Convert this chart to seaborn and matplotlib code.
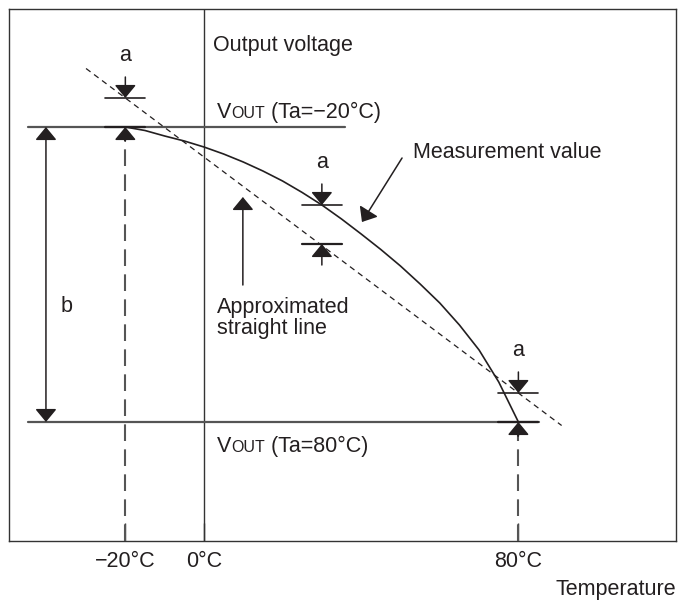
import matplotlib
matplotlib.use("Agg")
import matplotlib.pyplot as plt
from matplotlib.transforms import offset_copy
import pandas as pd
import seaborn as sns

# ---------------- data (schematic, arbitrary voltage units) ----------------
temps = [-20, -15, -10, -5, 0, 5, 10, 15, 20, 25, 30, 35, 40, 45, 50, 55, 60, 65, 70, 75, 80]
measured = [4.14, 4.105, 4.05, 4.00, 3.94, 3.87, 3.79, 3.70, 3.60, 3.485, 3.36,
            3.22, 3.07, 2.915, 2.75, 2.57, 2.38, 2.16, 1.91, 1.59, 1.19]
approx_temps = [-30, 91]
approx_vout = [4.725, 1.155]
tick_temps = [-20, 0, 80]
tick_labels = ["\u221220\u00b0C", "0\u00b0C", "80\u00b0C"]
ref_temps = [-20, 80]
ref_vout = [4.14, 1.19]
a_temps = [-20, 30, 80]
a_measured = [4.14, 3.36, 1.19]
a_approx = [4.43, 2.97, 1.48]

sns.set_style("white")
plt.rcParams["font.family"] = ["Liberation Sans", "DejaVu Sans"]

INK = "#231f20"
GRAY = "#555555"
FS = 15.5

fig = plt.figure(figsize=(6.84, 6.05), dpi=100)
ax = fig.add_axes([9 / 684, 1 - 541 / 605, (676 - 9) / 684, (541 - 9) / 605])
ax.set_xlim(-49.6, 120.1)
ax.set_ylim(0, 5.32)

curve_df = pd.DataFrame({"T": temps, "V": measured})
line_df = pd.DataFrame({"T": approx_temps, "V": approx_vout})

# axes frame and vertical axis at 0 degC
for s in ax.spines.values():
    s.set_color("#333333")
    s.set_linewidth(1.0)
ax.axvline(0, color="#333333", lw=1.0, zorder=2)

# reference horizontal lines
ax.plot([-44.8, 35.9], [ref_vout[0]] * 2, color=GRAY, lw=1.6, zorder=2)
ax.plot([-44.8, 85.2], [ref_vout[1]] * 2, color=GRAY, lw=1.6, zorder=2)

# approximated straight line and measured curve
sns.lineplot(data=line_df, x="T", y="V", ax=ax, color=INK, lw=0.9,
             linestyle=(0, (4.5, 3.5)), sort=False, zorder=3)
sns.lineplot(data=curve_df, x="T", y="V", ax=ax, color=INK, lw=1.2,
             sort=False, zorder=4)

HW = 5.1  # half width of the small 'a' bars, degC
arrow_kw = dict(arrowstyle="-|>,head_length=0.4,head_width=0.33",
                mutation_scale=20, color=INK, lw=1.1,
                shrinkA=0, shrinkB=0)

def arrow(tail, tip):
    ax.annotate("", xy=tip, xytext=tail, arrowprops=arrow_kw, zorder=5)

for t, vm, va in zip(a_temps, a_measured, a_approx):
    top = max(vm, va)
    bot = min(vm, va)
    ax.plot([t - HW, t + HW], [top, top], color=INK, lw=1.2, zorder=4)
    ax.plot([t - HW, t + HW], [bot, bot], color=INK, lw=1.6, zorder=4)
    arrow((t, top + 0.21), (t, top))
    if t in ref_temps:
        ax.plot([t, t], [0, bot - 0.12], color=GRAY, lw=1.5,
                linestyle=(0, (8, 4)), zorder=3)
        ax.plot([t, t], [bot - 0.14, bot - 0.05], color=INK, lw=1.1, zorder=4)
        arrow((t, bot - 0.14), (t, bot))
    else:
        arrow((t, bot - 0.21), (t, bot))
    ax.text(t, top + 0.32, "a", ha="center", va="bottom", fontsize=FS, color=INK)

# 'b' double arrow
bx = -40.2
ax.annotate("", xy=(bx, ref_vout[0]), xytext=(bx, ref_vout[1]),
            arrowprops=dict(arrowstyle="<|-|>,head_length=0.4,head_width=0.33",
                            mutation_scale=20, color=INK, lw=1.1,
                            shrinkA=0, shrinkB=0), zorder=5)
ax.text(-34.9, 2.34, "b", ha="center", va="center", fontsize=FS, color=INK)

# pointer arrows
arrow((9.9, 2.56), (9.9, 3.44))
arrow((50.4, 3.83), (40.2, 3.19))

# texts
ax.text(2.3, 4.96, "Output voltage", ha="left", va="center", fontsize=FS, color=INK)
ax.text(3.3, 2.23, "Approximated\nstraight line", ha="left", va="center",
        fontsize=FS, color=INK, linespacing=1.05)
ax.text(53.2, 3.89, "Measurement value", ha="left", va="center", fontsize=FS, color=INK)

fig.canvas.draw()
renderer = fig.canvas.get_renderer()

def vout_label(x, y, rest):
    t1 = ax.text(x, y, "V", ha="left", va="baseline", fontsize=FS, color=INK)
    w1 = t1.get_window_extent(renderer).width
    t2 = ax.text(x, y, "OUT", ha="left", va="baseline", fontsize=11.5, color=INK,
                 transform=offset_copy(ax.transData, fig=fig, x=w1, y=0, units="dots"))
    w2 = t2.get_window_extent(renderer).width
    ax.text(x, y, rest, ha="left", va="baseline", fontsize=FS, color=INK,
            transform=offset_copy(ax.transData, fig=fig, x=w1 + w2, y=0, units="dots"))

vout_label(3.3, 4.23, " (Ta=\u221220\u00b0C)")
vout_label(3.3, 0.89, " (Ta=80\u00b0C)")

# x ticks
ax.set_xticks(tick_temps)
ax.set_xticklabels(tick_labels, fontsize=FS, color=INK)
ax.tick_params(axis="x", direction="in", length=13, width=1.0, color="#333333",
               pad=7, bottom=True)
ax.set_yticks([])
ax.set_xlabel("")
ax.set_ylabel("")

fig.text(676 / 684, 1 - 590 / 605, "Temperature", ha="right", va="center",
         fontsize=FS, color=INK)

fig.savefig("out.png", dpi=100)
